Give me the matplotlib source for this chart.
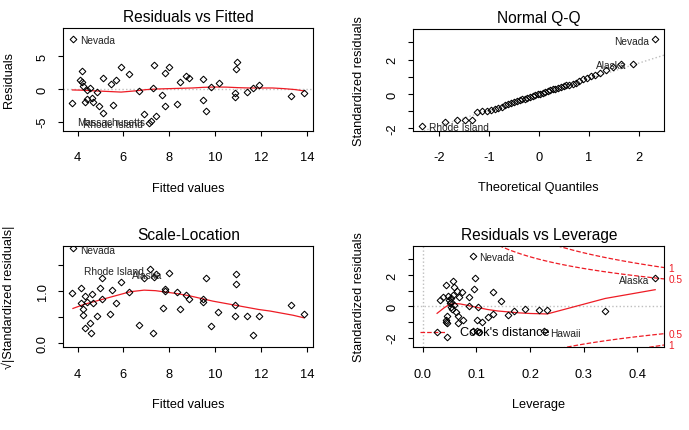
import matplotlib
matplotlib.use("Agg")
import matplotlib.pyplot as plt
import matplotlib.transforms as mtransforms
import numpy as np
from statistics import NormalDist

plt.rcParams['font.family'] = ['Liberation Sans', 'DejaVu Sans']

RED = '#EE1C25'
GRAY = '#BEBEBE'

# ==========================================
# Data (lm diagnostics, 50 states)
# ==========================================
# Residuals vs Fitted
rf_fitted = [3.82, 3.78, 4.19, 4.12, 4.20, 4.26, 4.55, 4.32, 4.40, 4.65,
             4.69, 4.84, 4.95, 5.10, 5.10, 5.45, 5.53, 5.66, 5.91, 6.25,
             6.66, 6.89, 7.20, 7.12, 7.29, 7.35, 7.42, 7.68, 7.82, 7.83,
             7.99, 8.34, 8.48, 8.71, 8.87, 9.46, 9.46, 9.59, 9.81, 10.16,
             10.86, 10.86, 10.91, 10.95, 11.41, 11.63, 11.90, 13.32, 13.88, 4.43]
rf_resid = [7.70, -2.14, 2.81, 1.43, 1.02, 0.41, 0.10, -1.94, -1.53, -1.43,
            -1.94, -0.51, -2.55, -3.67, 1.68, 0.77, -2.45, 1.43, 3.42, 2.30,
            -0.31, -3.83, -4.85, -5.20, 0.20, 3.67, -4.08, -0.92, 2.45, -2.55,
            3.37, -2.30, 1.12, 2.04, 1.68, 1.53, -1.68, -3.32, 0.36, 0.97,
            -0.61, -1.28, 3.06, 4.18, -0.46, 0.10, 0.66, -1.02, -0.66, -0.10]
rf_smooth_x = [3.78, 4.3, 4.8, 5.3, 5.9, 6.5, 7.0, 7.5, 8.0, 8.5, 9.0,
               9.5, 10.0, 10.5, 11.0, 11.5, 12.0, 12.5, 13.0, 13.5, 13.88]
rf_smooth_y = [-0.15, -0.2, -0.3, -0.38, -0.48, -0.3, -0.1, 0.0, 0.05, 0.1, 0.15,
               0.25, 0.3, 0.28, 0.2, 0.15, 0.15, 0.15, 0.05, -0.1, -0.3]
rf_ids = [("Nevada", 3.82, 7.70, 'right'),
          ("Massachusetts", 7.20, -4.85, 'left'),
          ("Rhode Island", 7.12, -5.20, 'left')]

# Normal Q-Q (sorted standardized residuals)
qq_sample = [-1.86, -1.63, -1.49, -1.49, -1.49, -1.05, -1.01, -0.97, -0.93, -0.88,
             -0.80, -0.75, -0.66, -0.60, -0.52, -0.47, -0.41, -0.36, -0.31, -0.26,
             -0.22, -0.15, -0.11, -0.06, -0.02, 0.03, 0.08, 0.12, 0.17, 0.22,
             0.27, 0.30, 0.34, 0.40, 0.46, 0.50, 0.55, 0.60, 0.66, 0.78,
             0.86, 0.95, 1.03, 1.10, 1.20, 1.38, 1.55, 1.72, 1.76, 3.18]
qq_ids = [("Nevada", 49, 'left'), ("Alaska", 48, 'left'), ("Rhode Island", 0, 'right')]

# Scale-Location
sl_fitted = [3.82, 3.78, 4.17, 4.32, 4.14, 4.43, 4.26, 4.23, 4.65, 4.69,
             4.55, 4.32, 4.58, 4.84, 4.98, 5.08, 5.08, 5.42, 5.51, 5.66,
             5.91, 6.24, 6.66, 7.15, 7.29, 7.35, 7.44, 7.72, 7.83, 7.83,
             7.99, 8.34, 8.48, 8.74, 8.84, 9.46, 9.46, 9.59, 9.82, 10.14,
             10.86, 10.86, 10.89, 10.93, 11.41, 11.63, 11.90, 13.32, 13.86, 6.89]
sl_sqrt = [1.81, 0.95, 1.06, 0.90, 0.76, 0.78, 0.64, 0.54, 0.94, 0.76,
           0.39, 0.28, 0.19, 0.51, 1.06, 0.84, 1.25, 0.55, 1.02, 0.76,
           1.17, 0.97, 0.35, 1.41, 0.19, 1.27, 1.32, 0.66, 1.04, 1.00,
           1.33, 0.98, 0.64, 0.92, 0.84, 0.85, 0.79, 1.25, 0.33, 0.60,
           0.73, 0.52, 1.13, 1.32, 0.51, 0.16, 0.51, 0.73, 0.56, 1.24]
sl_smooth_x = [3.80, 4.3, 4.8, 5.3, 5.8, 6.3, 6.9, 7.4, 7.9, 8.4, 8.9,
               9.4, 9.9, 10.4, 10.9, 11.4, 11.9, 12.4, 12.9, 13.4, 13.88]
sl_smooth_y = [0.66, 0.74, 0.80, 0.86, 0.92, 0.98, 1.01, 1.00, 0.97, 0.94, 0.90,
               0.85, 0.80, 0.76, 0.72, 0.68, 0.64, 0.61, 0.57, 0.53, 0.48]
sl_ids = [("Nevada", 3.82, 1.81, 'right'),
          ("Rhode Island", 7.15, 1.41, 'left'),
          ("Alaska", 7.99, 1.33, 'left')]

# Residuals vs Leverage
rl_leverage = [0.0943, 0.0974, 0.0571, 0.0428, 0.0583, 0.0633, 0.0726, 0.0955, 0.1302, 0.1451,
               0.0868, 0.0868, 0.1036, 0.0384, 0.0322, 0.0478, 0.0521, 0.0558, 0.0682, 0.0509,
               0.0521, 0.0620, 0.0664, 0.0447, 0.0434, 0.0459, 0.0664, 0.0757, 0.1005, 0.1098,
               0.1222, 0.1315, 0.1594, 0.1699, 0.0260, 0.0447, 0.0943, 0.1005, 0.1054, 0.1910,
               0.2158, 0.2319, 0.3398, 0.4329, 0.2260, 0.0533, 0.0546, 0.0583, 0.0496, 0.0440]
rl_stdres = [3.23, 1.79, 1.60, 1.38, 1.21, 1.00, 0.89, 1.11, 0.89, 0.32,
             0.57, 0.04, -0.02, 0.62, 0.40, 0.68, 0.53, 0.74, 0.57, 0.19,
             -0.02, -0.38, -0.60, -0.60, -0.87, -1.09, -1.06, -0.87, -0.87, -1.02,
             -0.70, -0.49, -0.53, -0.28, -1.66, -1.94, -1.60, -1.60, -1.66, -0.17,
             -0.21, -0.21, -0.28, 1.79, -1.60, 0.26, -0.17, 0.11, 0.40, -0.98]
rl_smooth_x = [0.027, 0.04, 0.05, 0.06, 0.07, 0.085, 0.10, 0.12, 0.14,
               0.16, 0.18, 0.20, 0.232, 0.28, 0.34, 0.39, 0.433]
rl_smooth_y = [-0.45, -0.1, 0.12, 0.17, 0.15, 0.05, -0.06, -0.2, -0.3,
               -0.36, -0.42, -0.46, -0.49, -0.05, 0.50, 0.80, 1.06]
rl_ids = [("Nevada", 0.0943, 3.23, 'right'),
          ("Alaska", 0.4329, 1.79, 'left'),
          ("Hawaii", 0.2260, -1.60, 'right')]
n_params = 5
cook_levels = [0.5, 1]

# ==========================================
# Figure layout (pixel boxes of the four panels)
# ==========================================
W, H = 689, 431
fig = plt.figure(figsize=(W / 100, H / 100), dpi=100)


def px_axes(x0, y0, x1, y1):
    return fig.add_axes([x0 / W, 1 - y1 / H, (x1 - x0) / W, (y1 - y0) / H])


ax1 = px_axes(63.3, 29.3, 313.3, 131.7)
ax2 = px_axes(413.3, 30.0, 664.3, 131.7)
ax3 = px_axes(63.3, 246.7, 313.3, 348.3)
ax4 = px_axes(413.3, 246.7, 664.3, 348.3)


def style(ax, title, xlabel, ylabel, xticks, xlabels, yticks, ylabels, xlim, ylim):
    ax.set_xlim(*xlim)
    ax.set_ylim(*ylim)
    ax.set_xticks(xticks, xlabels)
    ax.set_yticks(yticks, ylabels)
    ax.tick_params(direction='out', length=3.6, width=0.8, labelsize=9.3,
                   colors='black')
    ax.tick_params(axis='x', pad=11)
    ax.tick_params(axis='y', labelrotation=90, pad=7)
    for t in ax.get_yticklabels():
        t.set_va('center')
    for s in ax.spines.values():
        s.set_linewidth(0.8)
    ax.text(0.5, 1 + 11.5 / 102, title, transform=ax.transAxes,
            ha='center', va='center', fontsize=11.2)
    ax.set_xlabel(xlabel, fontsize=9.2)
    ax.set_ylabel(ylabel, fontsize=9.2)
    ax.xaxis.set_label_coords(0.5, -0.555)
    ax.xaxis.label.set_va('center')
    ax.yaxis.set_label_coords(-0.218, 0.5)
    ax.yaxis.label.set_va('center')


def points(ax, x, y):
    ax.plot(x, y, linestyle='none', marker='D', ms=3.4, mfc='none',
            mec='black', mew=0.75, zorder=3)


def label_ids(ax, ids):
    for name, x, y, side in ids:
        dx = 4.5 if side == 'right' else -4.5
        ax.annotate(name, (x, y), xytext=(dx, -1), textcoords='offset points',
                    ha='left' if side == 'right' else 'right', va='center',
                    fontsize=7.3, color='#222222', annotation_clip=False, zorder=4)


# 1. Residuals vs Fitted
ax1.axhline(0, color=GRAY, linestyle=':', linewidth=1)
points(ax1, rf_fitted, rf_resid)
ax1.plot(rf_smooth_x, rf_smooth_y, color=RED, linewidth=0.9)
label_ids(ax1, rf_ids)
style(ax1, "Residuals vs Fitted", "Fitted values", "Residuals",
      [4, 6, 8, 10, 12, 14], ['4', '6', '8', '10', '12', '14'],
      [-5, 0, 5], ['-5', '0', '5'], (3.38, 14.28), (-6.4, 9.3))

# 2. Normal Q-Q
n = len(qq_sample)
qq_theory = [NormalDist().inv_cdf((i + 0.5) / n) for i in range(n)]
q1, q3 = np.quantile(qq_sample, [0.25, 0.75])
z1, z3 = NormalDist().inv_cdf(0.25), NormalDist().inv_cdf(0.75)
slope = (q3 - q1) / (z3 - z1)
intercept = q1 - slope * z1
ax2.axline((0, intercept), slope=slope, color=GRAY, linestyle=':', linewidth=1)
points(ax2, qq_theory, qq_sample)
label_ids(ax2, [(name, qq_theory[i], qq_sample[i], side) for name, i, side in qq_ids])
style(ax2, "Normal Q-Q", "Theoretical Quantiles", "Standardized residuals",
      [-2, -1, 0, 1, 2], ['-2', '-1', '0', '1', '2'],
      [-2, -1, 0, 1, 2, 3], ['-2', '', '0', '', '2', ''], (-2.51, 2.51), (-2.13, 3.78))

# 3. Scale-Location
points(ax3, sl_fitted, sl_sqrt)
ax3.plot(sl_smooth_x, sl_smooth_y, color=RED, linewidth=0.9)
label_ids(ax3, sl_ids)
style(ax3, "Scale-Location", "Fitted values", "\u221a|Standardized residuals|",
      [4, 6, 8, 10, 12, 14], ['4', '6', '8', '10', '12', '14'],
      [0.0, 0.5, 1.0, 1.5], ['0.0', '', '1.0', ''], (3.38, 14.28), (-0.083, 1.86))

# 4. Residuals vs Leverage
xlim4 = (-0.0173, 0.450)
ax4.axhline(0, color=GRAY, linestyle=':', linewidth=1)
ax4.axvline(0, color=GRAY, linestyle=':', linewidth=1)
points(ax4, rl_leverage, rl_stdres)
ax4.plot(rl_smooth_x, rl_smooth_y, color=RED, linewidth=0.9)
hh = np.linspace(min(min(rl_leverage), max(rl_leverage) / 100), xlim4[1], 101)
trans = mtransforms.blended_transform_factory(ax4.transAxes, ax4.transData)
for crit in cook_levels:
    cl = np.sqrt(crit * n_params * (1 - hh) / hh)
    ax4.plot(hh, cl, color=RED, linestyle='--', linewidth=0.9)
    ax4.plot(hh, -cl, color=RED, linestyle='--', linewidth=0.9)
    aty = np.sqrt(crit * n_params * (1 - xlim4[1]) / xlim4[1])
    for yy in (aty, -aty):
        ax4.text(1 + 4 / 251, yy, f"{crit:g}", transform=trans, ha='left', va='center',
                 fontsize=7.3, color=RED, clip_on=False)
label_ids(ax4, rl_ids)
# legend (bottomleft, no box)
ax4.plot([7 / 251, 33 / 251], [15 / 101.6, 15 / 101.6], transform=ax4.transAxes,
         color=RED, linestyle='--', linewidth=0.9)
ax4.text(47 / 251, 15 / 101.6, "Cook's distance", transform=ax4.transAxes,
         ha='left', va='center', fontsize=9.2)
style(ax4, "Residuals vs Leverage", "Leverage", "Standardized residuals",
      [0.0, 0.1, 0.2, 0.3, 0.4], ['0.0', '0.1', '0.2', '0.3', '0.4'],
      [-2, -1, 0, 1, 2, 3], ['-2', '', '0', '', '2', ''], xlim4, (-2.62, 3.87))

fig.savefig("out.png", dpi=100)
